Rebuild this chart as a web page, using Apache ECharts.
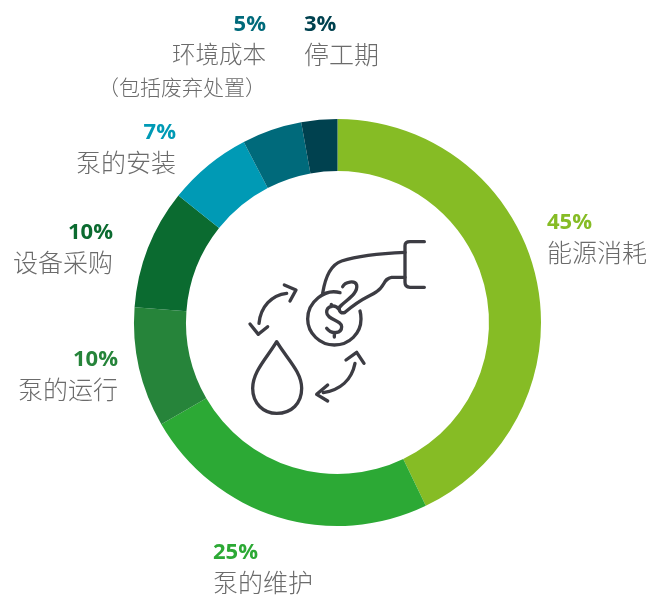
<!DOCTYPE html>
<html><head><meta charset="utf-8">
<style>html,body{margin:0;padding:0;background:#fff}#c{width:650px;height:597px}</style>
<script src="https://cdn.jsdelivr.net/npm/echarts@6/dist/echarts.min.js"></script>
</head><body><div id="c"></div>
<script>
const categories = ['能源消耗','泵的维护','泵的运行','设备采购','泵的安装','环境成本','停工期'];
const notes = ['','','','','','（包括废弃处置）',''];
const values = [45,25,10,10,7,5,3];
const colors = ['#86BC25','#2CA935','#26843A','#0B6B30','#009AB5','#006A7B','#00414F'];
const nameSizes = [25,25,25,25,25,23.5,25];
const anchors = [[547,210,'left'],[213,540,'left'],[118,347,'right'],[113,220,'right'],[176,120,'right'],[266,12,'right'],[304,12,'left']];
const chart = echarts.init(document.getElementById('c'),null,{renderer:'canvas'});
const rich = {};
colors.forEach((c,i)=>{
  const a = anchors[i][2];
  rich['p'+i] = {fontFamily:'Open Sans',fontWeight:700,fontSize:22,color:c,lineHeight:26,align:a};
  rich['n'+i] = {fontFamily:'"Noto Sans CJK SC"',fontWeight:300,fontSize:nameSizes[i],color:'#6b6b6b',lineHeight:33,align:a};
  rich['s'+i] = {fontFamily:'"Noto Sans CJK SC"',fontWeight:300,fontSize:21,color:'#6b6b6b',lineHeight:33,align:a};
});
const S = {stroke:'#3c3c43',lineWidth:10,fill:null,lineCap:'round',lineJoin:'round'};
const icons = [
 'M583 50L540 50Q525 50 525 62L525 172Q525 187 540 187L583 187',
 'M525 82C450 85 390 90 335 108C300 120 285 160 278 205',
 'M525 157L485 157C460 160 465 185 440 200C420 215 400 215 345 262C330 268 320 250 335 240C350 225 385 205 380 180C375 165 345 170 338 185',
 'M330 203C285 190 233 230 233 282C233 325 270 360 313 360C358 360 393 325 393 282C393 275 392 265 390 258',
 'M326 252C312 235 290 245 290 262C290 285 335 285 335 305C335 325 305 330 290 310M313 322L313 336M304 238L304 245',
 'M140 350C110 400 68 440 68 490C68 535 100 565 140 565C185 565 215 535 215 490C215 440 170 400 140 350Z',
 'M87 295C92 245 125 210 170 205M163 180L198 195L180 228M60 297L85 328L113 305',
 'M375 415C365 465 330 495 280 503M348 405L380 382L402 415M293 480L260 508L293 528'
];
chart.setOption({
 animation:false,
 backgroundColor:'#fff',
 series:[{
  type:'pie',silent:true,
  center:[337.5,322.5],radius:[151.5,203.5],startAngle:90,clockwise:true,
  avoidLabelOverlap:false,
  itemStyle:{borderWidth:0},
  label:{show:true,position:'outside',
   formatter:p=>{const i=p.dataIndex;
     return '{p'+i+'|'+p.value+'%}\n{n'+i+'|'+p.name+'}'+(notes[i]?'\n{s'+i+'|'+notes[i]+'}':'');},
   rich},
  labelLine:{show:false},
  labelLayout:p=>({x:anchors[p.dataIndex][0],y:anchors[p.dataIndex][1],align:anchors[p.dataIndex][2],verticalAlign:'top'}),
  data:categories.map((n,i)=>({name:n,value:values[i],itemStyle:{color:colors[i]}}))
 },{
  type:'custom',coordinateSystem:'none',silent:true,data:[0],z:5,
  renderItem:()=>({type:'group',x:230,y:225,scaleX:1/3,scaleY:1/3,
    children:icons.map(d=>({type:'path',shape:{pathData:d},style:S}))})
 }]
});
</script></body></html>
